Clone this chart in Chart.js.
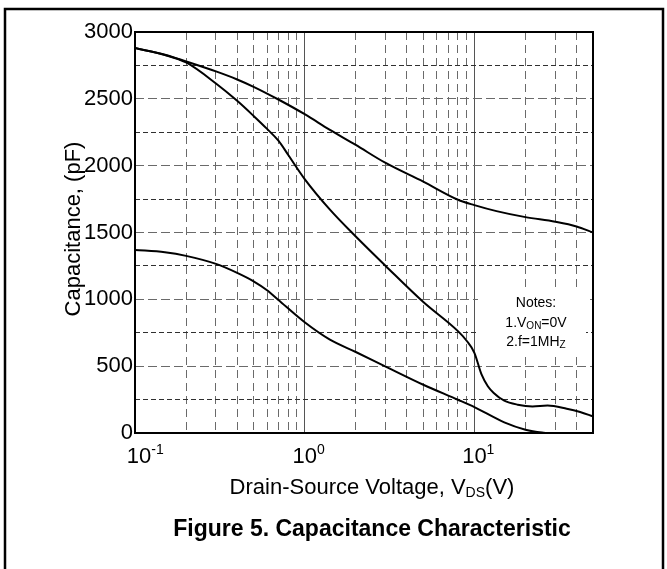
<!DOCTYPE html>
<html>
<head>
<meta charset="utf-8">
<script src="https://cdn.jsdelivr.net/npm/chart.js@4.4.1/dist/chart.umd.min.js"></script>
<style>
  html, body { margin: 0; padding: 0; background: #fff; }
  #wrap { width: 667px; height: 569px; position: relative; }
</style>
</head>
<body>
<div id="wrap"><canvas id="cap" width="667" height="569"></canvas></div>
<script>
// Capacitance vs drain-source voltage (log V axis)
const cissV  = [0.1, 0.15, 0.2, 0.3, 0.4, 0.5, 0.7, 1, 1.4, 2, 3, 5, 8, 10, 13.5, 20, 30, 40, 50];
const cissPF = [2880, 2830, 2780, 2705, 2645, 2590, 2495, 2385, 2270, 2155, 2020, 1880, 1745, 1705, 1660, 1615, 1580, 1545, 1500];

const cossV  = [0.1, 0.15, 0.2, 0.3, 0.4, 0.5, 0.6, 0.7, 0.8, 1, 1.4, 2, 3, 5, 8, 9, 10, 11, 12, 13, 15, 18, 22, 27, 35, 42, 50];
const cossPF = [2880, 2828, 2772, 2615, 2485, 2372, 2275, 2187, 2080, 1900, 1675, 1470, 1250, 980, 762, 690, 600, 440, 350, 300, 242, 212, 199, 206, 182, 157, 124];

const crssV  = [0.1, 0.15, 0.2, 0.3, 0.4, 0.5, 0.6, 0.7, 1, 1.4, 2, 3, 5, 8, 10, 15, 20, 25, 27];
const crssPF = [1370, 1352, 1325, 1265, 1198, 1135, 1068, 995, 828, 700, 606, 497, 361, 249, 194, 80, 25, 3, 0];

// grid positions on the voltage axis and labelled decades
const xGridValues = [0.1, 0.2, 0.3, 0.4, 0.5, 0.6, 0.7, 0.8, 0.9,
                     1, 2, 3, 4, 5, 6, 7, 8, 9,
                     10, 20, 30, 40, 50];
const xDecades = [0.1, 1, 10];
const xDecadeExp = ['-1', '0', '1'];

const FONT = "'Liberation Sans', Arial, Helvetica, sans-serif";

function toPoints(xs, ys) { return xs.map((x, i) => ({ x: x, y: ys[i] })); }

function isDecade(v) {
  const l = Math.log10(v);
  return Math.abs(l - Math.round(l)) < 1e-9;
}

// draw a sequence of text runs (with sub/superscripts)
function runsWidth(ctx, runs) {
  let w = 0;
  for (const r of runs) {
    ctx.font = (r.bold ? 'bold ' : '') + r.size + 'px ' + FONT;
    w += ctx.measureText(r.t).width;
  }
  return w;
}
function drawRuns(ctx, runs, x, y, align) {
  const w = runsWidth(ctx, runs);
  let cx = align === 'center' ? x - w / 2 : (align === 'right' ? x - w : x);
  ctx.textAlign = 'left';
  ctx.textBaseline = 'alphabetic';
  for (const r of runs) {
    ctx.font = (r.bold ? 'bold ' : '') + r.size + 'px ' + FONT;
    ctx.fillText(r.t, cx, y + (r.dy || 0));
    cx += ctx.measureText(r.t).width;
  }
}

const annotations = {
  id: 'annotations',
  beforeDatasetsDraw(chart) {
    // blank panel behind the notes
    const ctx = chart.ctx;
    ctx.save();
    ctx.fillStyle = '#fff';
    ctx.fillRect(478, 287, 108, 65);
    ctx.restore();
  },
  afterDatasetsDraw(chart) {
    const ctx = chart.ctx;
    const a = chart.chartArea;
    const xs = chart.scales.x;
    ctx.save();

    // plot frame
    ctx.strokeStyle = '#000';
    ctx.lineWidth = 2;
    ctx.strokeRect(a.left, a.top, a.right - a.left, a.bottom - a.top);

    // outer figure frame
    ctx.lineWidth = 2.5;
    ctx.strokeRect(5, 9, 658, 575);

    ctx.fillStyle = '#000';

    // decade labels 10^n
    xDecades.forEach((v, i) => {
      const px = xs.getPixelForValue(v) + (i === 0 ? 4 : 0);
      ctx.font = '22px ' + FONT;
      const w10 = ctx.measureText('10').width;
      drawRuns(ctx, [
        { t: '10', size: 22 },
        { t: xDecadeExp[i], size: 14, dy: -9 }
      ], px - w10 / 2, 463, 'left');
    });

    // x axis title
    const midX = (a.left + a.right) / 2 + 8;
    drawRuns(ctx, [
      { t: 'Drain-Source Voltage, V', size: 22 },
      { t: 'DS', size: 14, dy: 3 },
      { t: '(V)', size: 22 }
    ], midX, 494, 'center');

    // y axis title
    ctx.save();
    ctx.translate(80, 229);
    ctx.rotate(-Math.PI / 2);
    drawRuns(ctx, [{ t: 'Capacitance, (pF)', size: 22 }], 0, 0, 'center');
    ctx.restore();

    // measurement notes
    const nx = 536;
    drawRuns(ctx, [{ t: 'Notes:', size: 14 }], nx, 307, 'center');
    drawRuns(ctx, [
      { t: '1.V', size: 14 }, { t: 'ON', size: 10, dy: 2 }, { t: '=0V', size: 14 }
    ], nx, 327, 'center');
    drawRuns(ctx, [
      { t: '2.f=1MH', size: 14 }, { t: 'Z', size: 10, dy: 2 }
    ], nx, 346, 'center');

    // figure caption
    drawRuns(ctx, [{ t: 'Figure 5. Capacitance Characteristic', size: 23, bold: true }], midX, 536, 'center');

    ctx.restore();
  }
};

const lineStyle = {
  borderColor: '#000',
  borderWidth: 2,
  pointRadius: 0,
  fill: false,
  cubicInterpolationMode: 'monotone'
};

new Chart(document.getElementById('cap'), {
  type: 'line',
  data: {
    datasets: [
      Object.assign({ label: 'Ciss', data: toPoints(cissV, cissPF) }, lineStyle),
      Object.assign({ label: 'Coss', data: toPoints(cossV, cossPF) }, lineStyle),
      Object.assign({ label: 'Crss', data: toPoints(crssV, crssPF) }, lineStyle)
    ]
  },
  options: {
    responsive: false,
    animation: false,
    devicePixelRatio: 1,
    layout: { padding: { left: 0, top: 32, right: 74, bottom: 136 } },
    plugins: { legend: { display: false }, tooltip: { enabled: false } },
    scales: {
      x: {
        type: 'logarithmic',
        min: 0.1,
        max: 50,
        afterBuildTicks(scale) { scale.ticks = xGridValues.map(v => ({ value: v, major: isDecade(v) })); },
        afterFit(scale) { scale.height = 0; },
        ticks: { display: false },
        grid: {
          drawTicks: false,
          lineWidth: 1,
          color: ctx => (ctx.tick && isDecade(ctx.tick.value)) ? '#555' : '#6a6a6a'
        },
        border: {
          display: false,
          dash: ctx => (ctx.tick && !isDecade(ctx.tick.value)) ? [8, 5] : []
        }
      },
      y: {
        type: 'linear',
        min: 0,
        max: 3000,
        afterFit(scale) { scale.width = 135; },
        ticks: {
          stepSize: 250,
          autoSkip: false,
          padding: 2,
          color: '#000',
          font: { family: FONT, size: 22 },
          callback: v => (v % 500 === 0 ? String(v) : '')
        },
        grid: {
          drawTicks: false,
          lineWidth: 1,
          color: ctx => (ctx.tick && ctx.tick.value % 500 === 0) ? '#6a6a6a' : '#303030'
        },
        border: {
          display: false,
          dash: ctx => (ctx.tick && ctx.tick.value % 500 === 0) ? [9, 4] : [5, 3]
        }
      }
    }
  },
  plugins: [annotations]
});
</script>
</body>
</html>
